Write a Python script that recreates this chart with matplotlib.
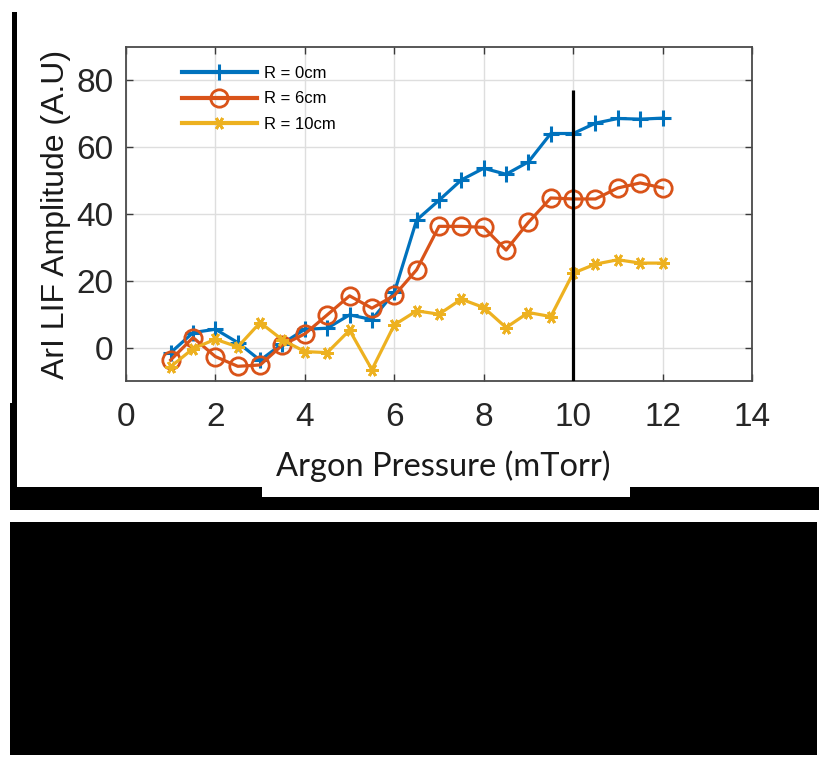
import matplotlib
matplotlib.use("Agg")
import matplotlib.pyplot as plt
from matplotlib.patches import Rectangle

# Argon pressure (mTorr) and ArI LIF amplitude at three radial positions
pressure = [1.0, 1.5, 2.0, 2.5, 3.0, 3.5, 4.0, 4.5, 5.0, 5.5, 6.0, 6.5,
            7.0, 7.5, 8.0, 8.5, 9.0, 9.5, 10.0, 10.5, 11.0, 11.5, 12.0]
amp_r0 = [-1.5, 4.5, 5.5, 1.5, -3.8, 1.2, 5.5, 5.8, 9.8, 8.4, 16.5, 38.2,
          44.1, 50.2, 53.7, 51.9, 55.6, 64.1, 64.1, 67.2, 68.6, 68.4, 68.7]
amp_r6 = [-3.7, 3.0, -2.7, -5.6, -5.2, 0.8, 4.1, 9.8, 15.5, 11.8, 15.6, 23.3,
          36.3, 36.3, 36.0, 29.2, 37.5, 44.8, 44.5, 44.5, 47.8, 49.3, 47.8]
amp_r10 = [-5.7, -0.3, 2.5, 0.2, 7.5, 2.3, -1.2, -1.5, 5.2, -6.6, 6.8, 11.0,
           10.0, 14.5, 12.0, 6.0, 10.5, 9.3, 22.3, 25.0, 26.3, 25.3, 25.3]
series_labels = ["R = 0cm", "R = 6cm", "R = 10cm"]
marker_line_x = 10.0
marker_line_top = 77.0

xticks = [0, 2, 4, 6, 8, 10, 12, 14]
yticks = [0, 20, 40, 60, 80]

W, H = 820, 765
fig = plt.figure(figsize=(W / 100, H / 100), dpi=100)
fig.patch.set_facecolor("white")


def px_rect(x0, y0, x1, y1, color):
    """Rectangle given in pixel coordinates measured from the top-left corner."""
    fig.add_artist(Rectangle((x0 / W, 1 - y1 / H), (x1 - x0) / W, (y1 - y0) / H,
                             transform=fig.transFigure, facecolor=color,
                             edgecolor="none", zorder=0))


# black frame pieces around the panel
px_rect(12, 12, 17, 403, "black")
px_rect(10, 403, 17, 510, "black")
px_rect(10, 487, 820, 510, "black")
px_rect(262, 487, 630, 497, "white")
px_rect(10, 522, 817, 755, "black")

ax_l, ax_r, ax_t, ax_b = 126, 752, 47, 381
ax = fig.add_axes([ax_l / W, 1 - ax_b / H, (ax_r - ax_l) / W, (ax_b - ax_t) / H])
ax.set_facecolor("white")

blue, orange, yellow = "#0072BD", "#D95319", "#EDB120"
ax.plot(pressure, amp_r0, color=blue, lw=2.3, marker="+", ms=11, mew=2.2,
        label=series_labels[0], zorder=3)
ax.plot(pressure, amp_r6, color=orange, lw=2.3, marker="o", ms=12.5, mew=2.0,
        mfc="none", label=series_labels[1], zorder=3)
ax.plot(pressure, amp_r10, color=yellow, lw=2.3, marker=(6, 2, 90), ms=9, mew=2.0,
        label=series_labels[2], zorder=3)

ax.plot([marker_line_x, marker_line_x], [-10, marker_line_top], color="black",
        lw=2.3, zorder=4, solid_capstyle="butt")

ax.set_xlim(0, 14)
ax.set_ylim(-10, 90)
ax.set_xticks(xticks)
ax.set_yticks(yticks)
ax.grid(True, color="#dedede", lw=1.0, zorder=0)
ax.set_axisbelow(True)
for s in ax.spines.values():
    s.set_color("#4a4a4a")
    s.set_linewidth(1.3)

tick_font = ["Liberation Sans", "DejaVu Sans"]
ax.tick_params(direction="in", length=5, width=1.0, color="#3a3a3a",
               top=True, right=True, labelsize=24, labelcolor="#262626")
ax.tick_params(axis="x", pad=15)
ax.tick_params(axis="y", pad=9)
for lab in ax.get_xticklabels() + ax.get_yticklabels():
    lab.set_family(tick_font)

ax.set_ylabel("ArI LIF Amplitude (A.U)", fontsize=23, family=["Liberation Sans", "DejaVu Sans"],
              color="#1a1a1a", labelpad=4)
ax.set_xlabel("Argon Pressure (mTorr)", fontsize=23.5, family=["Lato", "DejaVu Sans"],
              color="#1a1a1a", labelpad=13)
ax.xaxis.label.set_x(0.507)

leg = ax.legend(loc="upper left", bbox_to_anchor=(182 / W, 1 - 66 / H),
                bbox_transform=fig.transFigure, frameon=False,
                prop={"family": ["Liberation Sans", "DejaVu Sans"], "size": 12},
                handlelength=4.5, handletextpad=0.45, labelspacing=0.62,
                borderpad=0, borderaxespad=0, numpoints=1)
for line in leg.get_lines():
    line.set_linewidth(3.0)

fig.savefig("out.png", dpi=100, facecolor=fig.get_facecolor())
